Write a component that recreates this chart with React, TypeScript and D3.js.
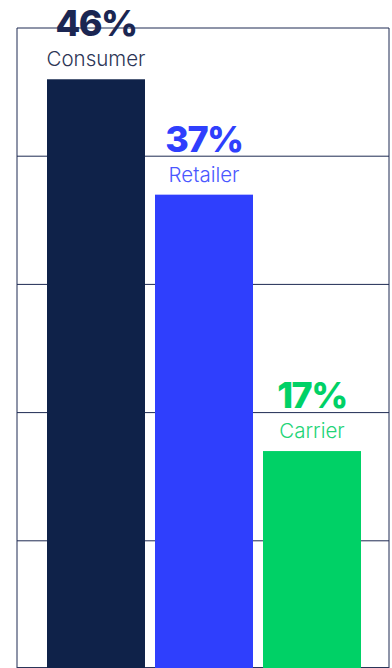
import React from "react";
import * as d3 from "d3";

const categories = ["Consumer", "Retailer", "Carrier"];
const values = [46, 37, 17];
const valueLabels = ["46%", "37%", "17%"];
const yTicks = [0, 10, 20, 30, 40, 50];

const barColors = ["#0f2249", "#2f3ffd", "#00d166"];
const pctColors = ["#1b2652", "#2f3ffd", "#00d166"];
const nameColors = ["#2c3556", "#4a57ff", "#22d477"];

const W = 392;
const H = 668;
const frameLeft = 17;
const frameRight = 389;
const frameTop = 28;
const frameBottom = 667.5;

export default function App() {
  const x = d3
    .scaleBand<string>()
    .domain(categories)
    .range([42, 366])
    .paddingInner(10 / 108)
    .paddingOuter(5 / 108);
  const y = d3.scaleLinear().domain([0, 50]).range([669, 28]);

  return (
    <div style={{ position: "absolute", left: 0, top: 0 }}>
      <svg width={W} height={H} style={{ display: "block" }}>
        <rect x={0} y={0} width={W} height={H} fill="#ffffff" />
        {yTicks.map((t) => (
          <line
            key={t}
            x1={frameLeft}
            x2={frameRight}
            y1={y(t)}
            y2={y(t)}
            stroke="#1e2a52"
            strokeWidth={1}
          />
        ))}
        <line x1={frameLeft} x2={frameLeft} y1={frameTop} y2={H} stroke="#1e2a52" strokeWidth={1} />
        <line x1={frameRight} x2={frameRight} y1={frameTop} y2={H} stroke="#1e2a52" strokeWidth={1} />
        <line x1={frameLeft} x2={frameRight} y1={frameBottom} y2={frameBottom} stroke="#2a3558" strokeWidth={1} />
        {categories.map((c, i) => {
          const bx = x(c) as number;
          const top = y(values[i]);
          const cx = bx + x.bandwidth() / 2;
          return (
            <g key={c}>
              <rect
                x={bx}
                y={top}
                width={x.bandwidth()}
                height={y(0) - top}
                fill={barColors[i]}
              />
              <text
                x={cx}
                y={top - 43}
                textAnchor="middle"
                fontFamily="Inter, 'Noto Sans', sans-serif"
                fontWeight={800}
                fontSize={36}
                letterSpacing={-1.5}
                fill={pctColors[i]}
              >
                {valueLabels[i]}
              </text>
              <text
                x={cx}
                y={top - 13}
                textAnchor="middle"
                fontFamily="Inter, 'Noto Sans', sans-serif"
                fontWeight={300}
                fontSize={20.5}
                fill={nameColors[i]}
              >
                {c}
              </text>
            </g>
          );
        })}
      </svg>
    </div>
  );
}
